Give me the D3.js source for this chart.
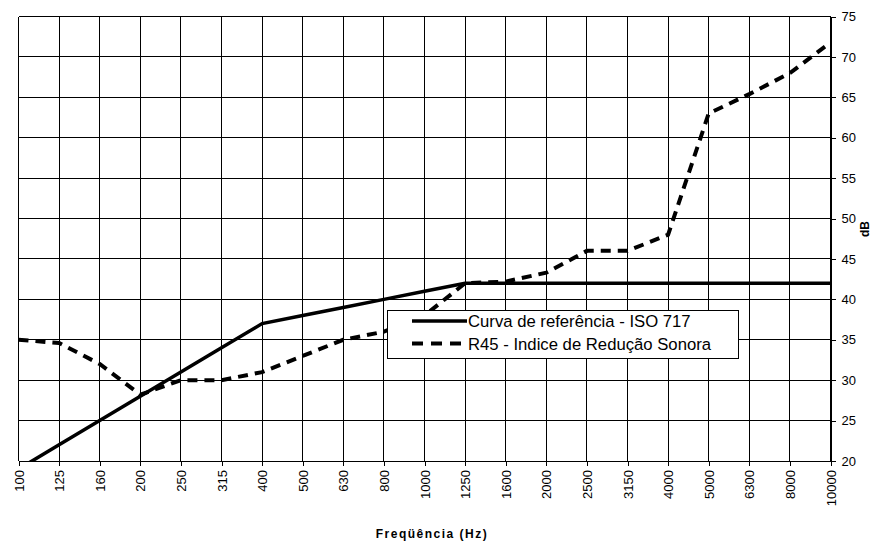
<!DOCTYPE html>
<html>
<head>
<meta charset="utf-8">
<script src="https://cdn.jsdelivr.net/npm/d3@7"></script>
<style>
  body { margin: 0; background: #fff; }
  text { font-family: Arial, 'Liberation Sans', sans-serif; fill: #000; }
</style>
</head>
<body>
<div id="chart"></div>
<script>
// frequency bands (Hz)
const freqs = ['100', '125', '160', '200', '250', '315', '400', '500', '630', '800', '1000',
  '1250', '1600', '2000', '2500', '3150', '4000', '5000', '6300', '8000', '10000'];
// shifted ISO 717 reference curve (dB)
const isoRef = [19, 22, 25, 28, 31, 34, 37, 38, 39, 40, 41,
  42, 42, 42, 42, 42, 42, 42, 42, 42, 42];
// R45 sound reduction index (dB)
const r45 = [35, 34.6, 32, 28.2, 30, 30, 31, 33, 35, 36, 38,
  42, 42.2, 43.3, 46, 46, 48, 63, 65.4, 68, 71.8];
const yTicks = [20, 25, 30, 35, 40, 45, 50, 55, 60, 65, 70, 75];
const seriesNames = ['Curva de referência - ISO 717', 'R45 - Indice de Redução Sonora'];

const width = 872, height = 541;
const plot = { left: 18.5, right: 830.5, top: 16.5, bottom: 461 };

const svg = d3.select('#chart').append('svg')
  .attr('width', width)
  .attr('height', height);

const x = d3.scalePoint().domain(freqs).range([plot.left, plot.right]);
const y = d3.scaleLinear().domain([20, 75]).range([plot.bottom, plot.top]);

// grid
const grid = svg.append('g').attr('stroke', '#000').attr('stroke-width', 1)
  .attr('shape-rendering', 'crispEdges');
grid.selectAll('.v').data(freqs).join('line')
  .attr('x1', d => x(d)).attr('x2', d => x(d))
  .attr('y1', plot.top).attr('y2', plot.bottom);
grid.selectAll('.h').data(yTicks).join('line')
  .attr('x1', plot.left).attr('x2', plot.right)
  .attr('y1', d => y(d)).attr('y2', d => y(d));

// axes
const xAxis = svg.append('g')
  .attr('transform', `translate(0,${plot.bottom})`)
  .call(d3.axisBottom(x).tickSize(5).tickPadding(4));
xAxis.selectAll('text')
  .attr('transform', 'rotate(-90)')
  .attr('text-anchor', 'end')
  .attr('x', -9).attr('y', 0).attr('dy', '0.35em')
  .style('font-size', '13px');

const yAxis = svg.append('g')
  .attr('transform', `translate(${plot.right},0)`)
  .call(d3.axisRight(y).tickValues(yTicks).tickSize(5).tickPadding(6));
yAxis.selectAll('text').style('font-size', '13px');

svg.selectAll('.domain, .tick line').attr('stroke', '#000').attr('shape-rendering', 'crispEdges');

// clip for data lines
svg.append('clipPath').attr('id', 'clip')
  .append('rect')
  .attr('x', plot.left).attr('y', plot.top)
  .attr('width', plot.right - plot.left).attr('height', plot.bottom - plot.top);

const line = d3.line().x((d, i) => x(freqs[i])).y(d => y(d));

const lines = svg.append('g').attr('clip-path', 'url(#clip)');
lines.append('path').datum(isoRef)
  .attr('fill', 'none').attr('stroke', '#000').attr('stroke-width', 3.5)
  .attr('stroke-linejoin', 'miter')
  .attr('d', line);
lines.append('path').datum(r45)
  .attr('fill', 'none').attr('stroke', '#000').attr('stroke-width', 4)
  .attr('stroke-dasharray', '10,7')
  .attr('d', line);

// legend
const lg = svg.append('g').attr('transform', 'translate(387,310)');
lg.append('rect').attr('width', 351).attr('height', 48)
  .attr('fill', '#fff').attr('stroke', '#000').attr('stroke-width', 1)
  .attr('shape-rendering', 'crispEdges');
const items = lg.selectAll('.item').data(seriesNames).join('g')
  .attr('transform', (d, i) => `translate(25,${11 + i * 22.5})`);
items.append('line')
  .attr('x1', 0).attr('x2', 55).attr('y1', 0).attr('y2', 0)
  .attr('stroke', '#000')
  .attr('stroke-width', (d, i) => i === 0 ? 3.5 : 4)
  .attr('stroke-dasharray', (d, i) => i === 0 ? null : '11,8');
items.append('text')
  .attr('x', 56).attr('dy', '0.36em')
  .style('font-size', '16.7px')
  .text(d => d);

// axis titles
svg.append('text')
  .attr('x', 432).attr('y', 538)
  .attr('text-anchor', 'middle')
  .style('font-size', '12px').style('font-weight', 'bold')
  .style('letter-spacing', '1.5px')
  .text('Freqüência (Hz)');

svg.append('text')
  .attr('transform', 'translate(868.5,229) rotate(-90)')
  .attr('text-anchor', 'middle')
  .style('font-size', '12px').style('font-weight', 'bold')
  .text('dB');
</script>
</body>
</html>
